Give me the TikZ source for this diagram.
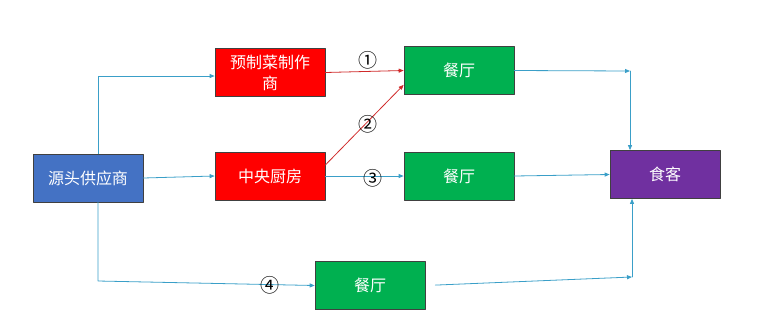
\documentclass[tikz,border=0pt]{standalone}
\usepackage{fontspec}
\newfontfamily\cjk{Noto Sans CJK SC}
\usetikzlibrary{arrows.meta}
\definecolor{srcblue}{HTML}{4472C4}
\definecolor{boxred}{HTML}{FF0000}
\definecolor{boxgreen}{HTML}{00B050}
\definecolor{boxpurple}{HTML}{7030A0}
\definecolor{linkblue}{HTML}{3A9FC8}
\definecolor{linkred}{HTML}{D02A2A}
\begin{document}
\begin{tikzpicture}[x=1pt, y=-1pt, line cap=round, line join=round,
  >={Triangle[length=5pt,width=4pt]}, font=\cjk\fontsize{16}{21}\selectfont,
  box/.style={draw=black!75, line width=0.7pt, minimum width=110pt, minimum height=48pt,
    text=white, align=center, inner sep=1pt},
  flow/.style={->, draw=linkblue, line width=0.8pt},
  redflow/.style={->, draw=linkred, line width=0.8pt},
  num/.style={inner sep=0pt, font=\cjk\fontsize{19}{20}\selectfont}]
  \useasboundingbox (0,0) rectangle (766,325);
  \node[box, fill=srcblue] (src) at (88,178) {源头供应商};
  \node[box, fill=boxred] (maker) at (270,72.5) {预制菜制作\\商};
  \node[box, fill=boxred] (kitchen) at (270,176) {中央厨房};
  \node[box, fill=boxgreen] (rest1) at (459,70.5) {餐厅};
  \node[box, fill=boxgreen] (rest2) at (459,176) {餐厅};
  \node[box, fill=boxgreen] (rest3) at (370,285.5) {餐厅};
  \node[box, fill=boxpurple] (diner) at (665,174.5) {食客};
  \path (98,76) coordinate (up)
    (98,281) coordinate (down)
    (630,71) coordinate (in1)
    (632,277) coordinate (in3);
  % supplier branches
  \draw[flow] (src.north -| up) -- (up) -- (up -| maker.west);
  \draw[flow] (src.east) -- (kitchen.west);
  \draw[flow] (src.south -| down) -- (down) -- (rest3.west);
  % into the restaurants
  \draw[redflow] (maker.east) -- (rest1.west);
  \draw[redflow] ([yshift=11pt]kitchen.east) -- ([yshift=10pt]rest1.south west);
  \draw[flow] (kitchen.east) -- (rest2.west);
  % to the diner
  \draw[flow] (rest1.east) -- (in1);
  \draw[flow] (in1) -- (in1 |- diner.north);
  \draw[flow] (rest2.east) -- (diner.west);
  \draw[flow, shorten <=10pt] (rest3.east) -- (in3);
  \draw[flow] (in3) -- (in3 |- diner.south);
  \foreach \n/\t/\p in {n1/①/{(368,60)}, n2/②/{(368,124)}, n3/③/{(373,178)}, n4/④/{(270,285)}}{
    \node[num] (\n) at \p {\t};
  }
\end{tikzpicture}
\end{document}
